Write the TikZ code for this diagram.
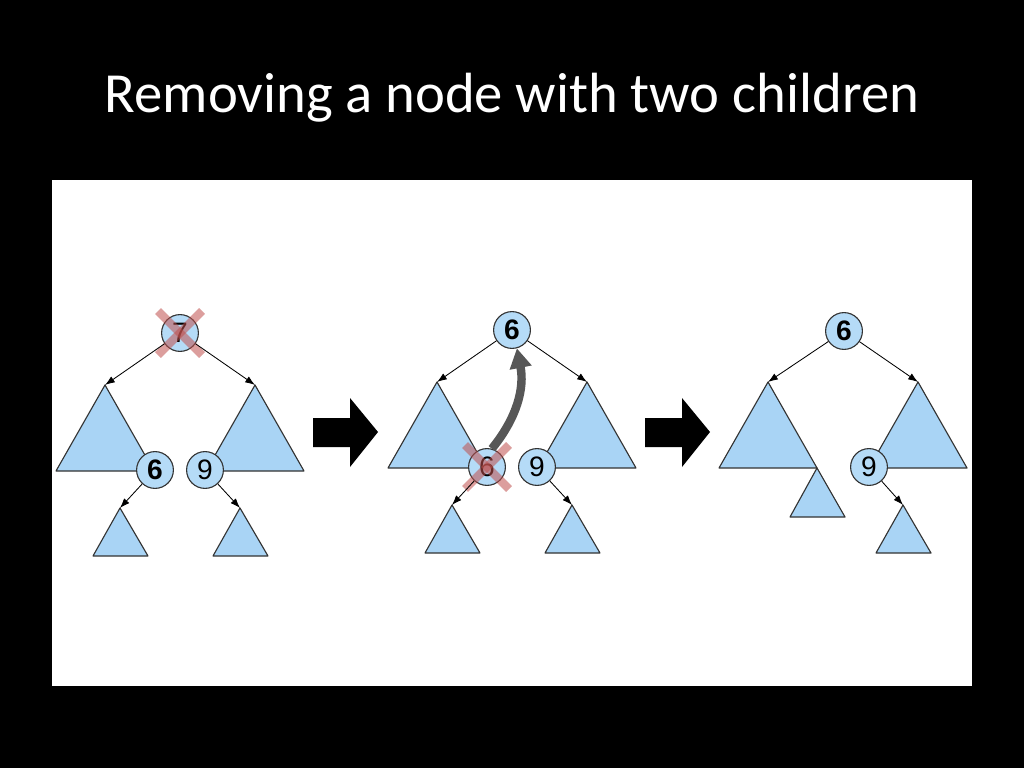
\documentclass[tikz,border=0pt]{standalone}
\usepackage{fontspec}
\setmainfont{Carlito}
\newfontfamily\numfont{Liberation Sans}
\usetikzlibrary{arrows.meta}
\definecolor{treeblue}{HTML}{A9D4F5}
\definecolor{nodeblue}{HTML}{B5DBF7}
\definecolor{crossred}{HTML}{C0504D}
\definecolor{movegray}{HTML}{575757}

\begin{document}
\begin{tikzpicture}[x=0.025cm,y=-0.025cm,
	key/.style={circle, draw=black!80, fill=nodeblue, line width=0.8pt, minimum size=0.92cm, inner sep=0pt, font=\numfont\fontsize{20}{20}\selectfont},
	sub/.style={draw=black!80, fill=treeblue, line width=0.8pt, line join=round},
	link/.style={-{Latex[length=7pt,width=5pt]}, line width=0.6pt},
	cross/.style={crossred, opacity=0.55, line width=6pt},
	bigarrow/.style={fill=black}]

	\fill[black] (0,0) rectangle (1024,768);
	\fill[white] (52,180) rectangle (972,686);
	\node[text=white, font=\fontsize{40.3}{46}\selectfont] (title) at (512,98) {Removing a node with two children};

	% before
	\coordinate (a1) at (105,385);
	\coordinate (b1) at (255,385);
	\coordinate (s1) at (120,508);
	\coordinate (t1) at (240,508);
	\draw[sub] (a1) -- (154,471) -- (56,471) -- cycle;
	\draw[sub] (b1) -- (304,471) -- (206,471) -- cycle;
	\draw[sub] (s1) -- (148,556) -- (93,556) -- cycle;
	\draw[sub] (t1) -- (268,556) -- (213,556) -- cycle;

	\node[key] (r1) at (180,333) {7};
	\node[key] (p1) at (155,470) {\bfseries 6};
	\node[key] (q1) at (205,470) {9};
	\draw[cross] (158,311) -- (202,355);
	\draw[cross] (202,311) -- (158,355);

	\draw[link] (r1) -- (a1);
	\draw[link] (r1) -- (b1);
	\draw[link] (p1) -- (s1);
	\draw[link] (q1) -- (t1);

	\fill[bigarrow] (313,418) -- (350,418) -- (350,398) -- (378,432) -- (350,467) -- (350,447) -- (313,447) -- cycle;

	% moving the successor up
	\coordinate (a2) at (437,382);
	\coordinate (b2) at (587,382);
	\coordinate (s2) at (452,505);
	\coordinate (t2) at (572,505);
	\draw[sub] (a2) -- (486,468) -- (388,468) -- cycle;
	\draw[sub] (b2) -- (636,468) -- (538,468) -- cycle;
	\draw[sub] (s2) -- (480,553) -- (425,553) -- cycle;
	\draw[sub] (t2) -- (600,553) -- (545,553) -- cycle;

	\node[key] (r2) at (512,330) {\bfseries 6};
	\node[key] (p2) at (487,467) {6};
	\node[key] (q2) at (537,467) {9};
	\draw[cross] (465,445) -- (509,489);
	\draw[cross] (509,445) -- (465,489);

	\draw[link] (r2) -- (a2);
	\draw[link] (r2) -- (b2);
	\draw[link] (p2) -- (s2);
	\draw[link] (q2) -- (t2);

	\draw[movegray, line width=6pt, -{Triangle[length=14pt, width=15pt]}] (p2.75) to[bend right=25] (r2.285);

	\fill[bigarrow] (645,418) -- (682,418) -- (682,398) -- (710,432) -- (682,467) -- (682,447) -- (645,447) -- cycle;

	% after
	\coordinate (a3) at (768,382);
	\coordinate (b3) at (918,382);
	\coordinate (t3) at (903,505);
	\draw[sub] (a3) -- (817,468) -- (719,468) -- cycle;
	\draw[sub] (817,468) -- (845,517) -- (790,517) -- cycle;
	\draw[sub] (b3) -- (967,468) -- (869,468) -- cycle;
	\draw[sub] (t3) -- (931,553) -- (876,553) -- cycle;

	\node[key] (r3) at (844,331) {\bfseries 6};
	\node[key] (q3) at (869,467) {9};

	\draw[link] (r3) -- (a3);
	\draw[link] (r3) -- (b3);
	\draw[link] (q3) -- (t3);

\end{tikzpicture}
\end{document}
